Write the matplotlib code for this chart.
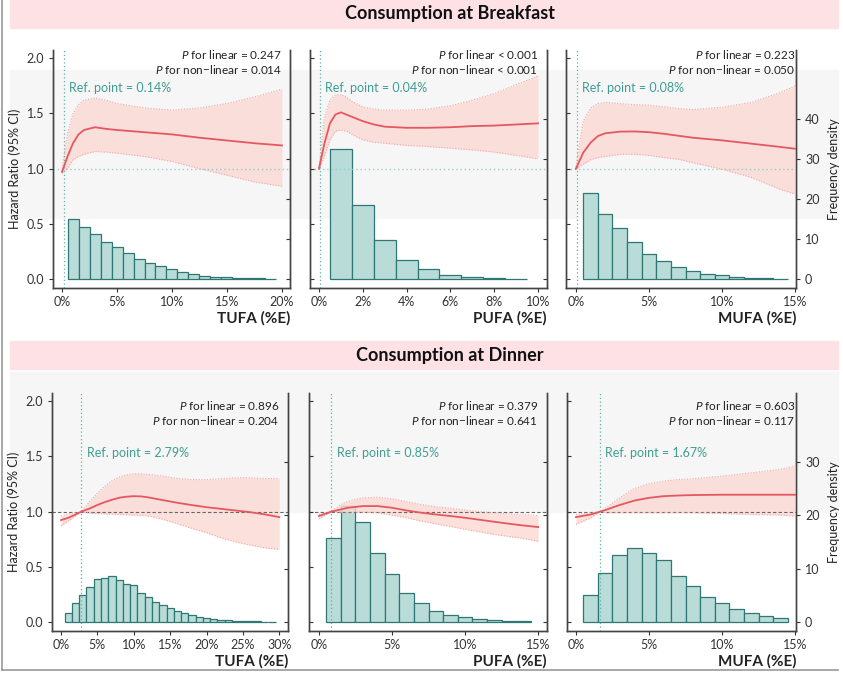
import numpy as np
import matplotlib
matplotlib.use("Agg")
import matplotlib.pyplot as plt
from matplotlib.patches import Rectangle
from matplotlib.lines import Line2D

plt.rcParams['font.family'] = ['Lato', 'DejaVu Sans']
plt.rcParams['mathtext.fontset'] = 'custom'
plt.rcParams['mathtext.it'] = 'Lato:italic'
plt.rcParams['mathtext.rm'] = 'Lato'

W, H = 843, 674

# ---------------- Breakfast ----------------
# TUFA
bf_tufa_x = [0, 0.5, 1, 1.5, 2, 3, 4, 5, 7.5, 10, 12.5, 15, 17.5, 20]
bf_tufa_hr = [0.97, 1.11, 1.23, 1.31, 1.35, 1.375, 1.36, 1.35, 1.33, 1.31, 1.28, 1.255, 1.23, 1.21]
bf_tufa_lo = [0.96, 1.00, 1.08, 1.11, 1.13, 1.155, 1.15, 1.14, 1.11, 1.065, 1.00, 0.94, 0.88, 0.84]
bf_tufa_hi = [1.00, 1.32, 1.50, 1.58, 1.62, 1.64, 1.62, 1.59, 1.55, 1.53, 1.55, 1.59, 1.65, 1.72]
bf_tufa_freq = [15.0, 13.1, 11.25, 9.3, 7.9, 6.5, 5.0, 4.0, 3.2, 2.5, 1.8, 1.25,
                0.83, 0.58, 0.42, 0.33, 0.25, 0.17, 0.08]

# PUFA
bf_pufa_x = [0, 0.25, 0.5, 0.75, 1, 1.25, 1.5, 2, 2.5, 3, 4, 5, 6, 7, 8, 9, 10]
bf_pufa_hr = [1.0, 1.23, 1.41, 1.49, 1.51, 1.49, 1.47, 1.43, 1.40, 1.38, 1.37, 1.37,
              1.375, 1.385, 1.39, 1.40, 1.41]
bf_pufa_lo = [1.0, 1.11, 1.26, 1.34, 1.35, 1.34, 1.31, 1.26, 1.24, 1.23, 1.21, 1.20,
              1.185, 1.17, 1.15, 1.12, 1.09]
bf_pufa_hi = [1.01, 1.47, 1.62, 1.67, 1.67, 1.65, 1.61, 1.56, 1.54, 1.53, 1.53, 1.54,
              1.57, 1.62, 1.68, 1.76, 1.84]
bf_pufa_freq = [32.5, 18.6, 9.8, 4.75, 2.5, 1.1, 0.5, 0.25, 0.08]

# MUFA
bf_mufa_x = [0, 0.5, 1, 1.5, 2, 3, 4, 5, 6, 7, 8, 10, 12, 14, 15]
bf_mufa_hr = [1.0, 1.145, 1.235, 1.295, 1.32, 1.335, 1.337, 1.33, 1.316, 1.298, 1.28,
              1.256, 1.226, 1.196, 1.18]
bf_mufa_lo = [1.0, 1.04, 1.08, 1.10, 1.11, 1.13, 1.13, 1.12, 1.10, 1.085, 1.054, 0.994,
              0.92, 0.81, 0.77]
bf_mufa_hi = [1.02, 1.43, 1.55, 1.59, 1.60, 1.59, 1.58, 1.575, 1.56, 1.545, 1.535,
              1.557, 1.60, 1.69, 1.75]
bf_mufa_freq = [21.4, 16.3, 12.8, 9.3, 6.3, 4.6, 3.1, 2.0, 1.14, 0.9, 0.57, 0.33, 0.16, 0.08]

# ---------------- Dinner ----------------
# TUFA
dn_tufa_x = [0, 1, 2, 2.79, 4, 5, 6, 7, 8, 9, 10, 11, 12, 14, 16, 18, 20, 22, 24, 26, 28, 30]
dn_tufa_hr = [0.923, 0.944, 0.974, 1.0, 1.03, 1.06, 1.086, 1.107, 1.126, 1.135, 1.14,
              1.138, 1.129, 1.104, 1.08, 1.059, 1.04, 1.025, 1.01, 0.995, 0.975, 0.95]
dn_tufa_lo = [0.87, 0.914, 0.96, 1.0, 0.986, 0.983, 0.98, 0.977, 0.974, 0.971, 0.968,
              0.965, 0.96, 0.93, 0.89, 0.847, 0.81, 0.762, 0.726, 0.696, 0.672, 0.657]
dn_tufa_hi = [0.96, 0.98, 0.99, 1.0, 1.095, 1.17, 1.23, 1.277, 1.313, 1.333, 1.343,
              1.342, 1.337, 1.322, 1.30, 1.29, 1.29, 1.298, 1.307, 1.307, 1.30, 1.30]
dn_tufa_freq = [1.66, 3.5, 5.0, 6.6, 8.0, 8.2, 8.7, 7.9, 7.2, 6.9, 5.5, 4.7, 3.8, 3.2,
                2.6, 2.1, 1.66, 1.23, 0.92, 0.74, 0.55, 0.43, 0.31, 0.25, 0.18, 0.12,
                0.09, 0.06, 0.06]

# PUFA
dn_pufa_x = [0, 0.85, 1.5, 2, 3, 4, 5, 6, 7, 8, 9, 10, 11, 12, 13, 14, 15]
dn_pufa_hr = [0.96, 1.0, 1.02, 1.035, 1.05, 1.05, 1.035, 1.01, 0.99, 0.974, 0.96,
              0.944, 0.926, 0.908, 0.89, 0.874, 0.86]
dn_pufa_lo = [0.935, 1.0, 0.995, 0.995, 0.995, 0.99, 0.968, 0.944, 0.914, 0.89, 0.865,
              0.84, 0.817, 0.793, 0.775, 0.756, 0.73]
dn_pufa_hi = [0.974, 1.0, 1.065, 1.095, 1.125, 1.13, 1.117, 1.09, 1.065, 1.044, 1.03,
              1.014, 1.0, 0.99, 0.98, 0.974, 0.965]
dn_pufa_freq = [15.8, 21.7, 18.8, 12.9, 8.9, 5.5, 3.6, 2.15, 1.35, 0.92, 0.55, 0.37, 0.25, 0.18]

# MUFA
dn_mufa_x = [0, 1, 1.67, 2, 3, 4, 5, 6, 7, 8, 10, 12, 14, 15]
dn_mufa_hr = [0.95, 0.974, 1.0, 1.014, 1.06, 1.10, 1.125, 1.14, 1.146, 1.15, 1.153,
              1.153, 1.153, 1.153]
dn_mufa_lo = [0.884, 0.944, 1.0, 0.99, 0.99, 0.99, 0.99, 0.99, 0.99, 0.99, 0.983,
              0.974, 0.968, 0.96]
dn_mufa_hi = [0.974, 0.99, 1.0, 1.03, 1.125, 1.21, 1.253, 1.277, 1.29, 1.298, 1.322,
              1.352, 1.383, 1.413]
dn_mufa_freq = [5.0, 9.2, 12.6, 13.9, 12.9, 11.6, 8.7, 6.75, 4.7, 3.5, 2.45, 1.66, 1.17, 0.67]

TEAL = '#3f9e93'
RED = '#e4585f'
BAND = '#fcd9d4'
BAND_EDGE = '#f0a7a3'
BAR_FACE = '#b9dcd9'
BAR_EDGE = '#2f7772'
SPINE = '#444444'


def fig_rect(left, top, width, height):
    """pixel box -> figure fraction rect"""
    return [left / W, 1 - (top + height) / H, width / W, height / H]


def draw_panel(fig, box, xlim, xticks, x, hr, lo, hi, freq, ref, p_lin, p_non,
               xlabel, freq_lim, freq_ticks, first=False, last=False, dinner=False):
    ax2 = fig.add_axes(fig_rect(*box))
    ax = ax2.twinx()
    ax.yaxis.tick_left()
    ax2.yaxis.tick_right()
    ax2.patch.set_visible(False)

    # histogram on frequency axis
    centers = np.arange(len(freq)) + 1
    ax2.bar(centers, freq, width=1.0, color=BAR_FACE, edgecolor=BAR_EDGE,
            linewidth=0.9, zorder=2)
    ax2.set_ylim(*freq_lim)
    ax2.set_yticks(freq_ticks)
    ax2.set_xlim(*xlim)

    # spline + CI
    ax.fill_between(x, lo, hi, color=BAND, alpha=0.8, linewidth=0, zorder=1)
    ax.plot(x, lo, color=BAND_EDGE, lw=0.8, ls=(0, (1, 1.5)), zorder=2)
    ax.plot(x, hi, color=BAND_EDGE, lw=0.8, ls=(0, (1, 1.5)), zorder=2)
    ax.plot(x, hr, color=RED, lw=1.3, zorder=3)

    ax.axvline(ref, color='#5db3a7', lw=0.9, ls=(0, (1, 2)), zorder=1)
    if dinner:
        ax.axhline(1.0, color='#666666', lw=0.8, ls=(0, (3, 2)), zorder=1)
    else:
        ax.axhline(1.0, color='#8fd0c6', lw=1.0, ls=(0, (1, 2)), zorder=1)

    ax.set_ylim(-0.082, 2.075)
    ax.set_yticks([0, 0.5, 1.0, 1.5, 2.0])
    ax.set_xlim(*xlim)
    ax2.set_xticks(xticks)
    ax2.set_xticklabels([f"{t}%" for t in xticks])

    for a in (ax, ax2):
        a.spines['top'].set_visible(False)
        for s in ('left', 'right', 'bottom'):
            a.spines[s].set_color(SPINE)
            a.spines[s].set_linewidth(1.0)
    ax.tick_params(axis='y', labelsize=9, colors='#333333', length=3,
                   direction='out' if first else 'in', labelleft=first)
    ax2.tick_params(axis='y', labelsize=9, colors='#333333', length=3,
                    direction='out' if last else 'in', labelright=last)
    ax2.tick_params(axis='x', labelsize=9, colors='#333333', length=3, pad=3)
    ax.tick_params(axis='x', bottom=False, labelbottom=False)

    if first:
        ax.set_ylabel('Hazard Ratio (95% CI)', fontsize=9, color='#222222', labelpad=4)
        ax.yaxis.set_label_position('left')
    if last:
        ax2.yaxis.set_label_position('right')
        ax2.set_ylabel('Frequency density', fontsize=9, color='#222222', labelpad=6)

    xr = x[-1]
    p_y = (1.96, 1.83) if dinner else (2.035, 1.90)
    ax.text(xr, p_y[0], r'$\mathit{P}$ for linear ' + p_lin, ha='right', va='center',
            fontsize=8.5, color='#222222')
    ax.text(xr, p_y[1], r'$\mathit{P}$ for non−linear ' + p_non, ha='right',
            va='center', fontsize=8.5, color='#222222')
    ref_y = 1.735 if not dinner else 1.535
    ax.text(ref + 0.022 * (xlim[1] - xlim[0]), ref_y, f'Ref. point = {ref}%',
            ha='left', va='center', fontsize=9, color=TEAL)

    ax2.set_xlabel(xlabel, fontsize=11, fontweight='bold', color='#222222',
                   loc='right', labelpad=2)
    return ax, ax2


fig = plt.figure(figsize=(W / 100, H / 100), dpi=100)
fig.patch.set_facecolor('white')

# background bands and banners
fig.add_artist(Rectangle((10 / W, 1 - 218 / H), 828 / W, 148 / H,
                         transform=fig.transFigure, color='#f6f6f6', zorder=0))
fig.add_artist(Rectangle((10 / W, 1 - 512 / H), 828 / W, 140 / H,
                         transform=fig.transFigure, color='#f6f6f6', zorder=0))
fig.add_artist(Rectangle((10 / W, 1 - 28 / H), 828 / W, 28 / H,
                         transform=fig.transFigure, color='#fde1e5', zorder=0))
fig.add_artist(Rectangle((10 / W, 1 - 369 / H), 828 / W, 28 / H,
                         transform=fig.transFigure, color='#fde1e5', zorder=0))
fig.add_artist(Line2D([2 / W, 2 / W], [1 - 670 / H, 1.0], transform=fig.transFigure,
                      color='#9a9a9a', lw=1.2))
fig.add_artist(Line2D([2 / W, 838 / W], [1 - 670 / H, 1 - 670 / H],
                      transform=fig.transFigure, color='#9a9a9a', lw=1.2))

fig.text(450 / W, 1 - 14 / H, 'Consumption at Breakfast', ha='center', va='center',
         fontsize=13, fontweight='bold', color='#111111')
fig.text(450 / W, 1 - 355 / H, 'Consumption at Dinner', ha='center', va='center',
         fontsize=13, fontweight='bold', color='#111111')

top_freq = (-2.25, 57.2)
bot_freq = (-1.69, 42.9)

draw_panel(fig, (53, 50, 237, 238), (-0.82, 20.73), [0, 5, 10, 15, 20],
           bf_tufa_x, bf_tufa_hr, bf_tufa_lo, bf_tufa_hi, bf_tufa_freq, 0.14,
           '= 0.247', '= 0.014', 'TUFA (%E)', top_freq, [0, 10, 20, 30, 40], first=True)
draw_panel(fig, (310, 50, 237, 238), (-0.41, 10.41), [0, 2, 4, 6, 8, 10],
           bf_pufa_x, bf_pufa_hr, bf_pufa_lo, bf_pufa_hi, bf_pufa_freq, 0.04,
           '< 0.001', '< 0.001', 'PUFA (%E)', top_freq, [0, 10, 20, 30, 40])
draw_panel(fig, (566, 50, 230, 238), (-0.68, 15.05), [0, 5, 10, 15],
           bf_mufa_x, bf_mufa_hr, bf_mufa_lo, bf_mufa_hi, bf_mufa_freq, 0.08,
           '= 0.223', '= 0.050', 'MUFA (%E)', top_freq, [0, 10, 20, 30, 40], last=True)

draw_panel(fig, (52, 393, 236, 238), (-1.24, 31.2), [0, 5, 10, 15, 20, 25, 30],
           dn_tufa_x, dn_tufa_hr, dn_tufa_lo, dn_tufa_hi, dn_tufa_freq, 2.79,
           '= 0.896', '= 0.204', 'TUFA (%E)', bot_freq, [0, 10, 20, 30],
           first=True, dinner=True)
draw_panel(fig, (309, 393, 238, 238), (-0.68, 15.6), [0, 5, 10, 15],
           dn_pufa_x, dn_pufa_hr, dn_pufa_lo, dn_pufa_hi, dn_pufa_freq, 0.85,
           '= 0.379', '= 0.641', 'PUFA (%E)', bot_freq, [0, 10, 20, 30], dinner=True)
draw_panel(fig, (567, 393, 229, 238), (-0.61, 15.05), [0, 5, 10, 15],
           dn_mufa_x, dn_mufa_hr, dn_mufa_lo, dn_mufa_hi, dn_mufa_freq, 1.67,
           '= 0.603', '= 0.117', 'MUFA (%E)', bot_freq, [0, 10, 20, 30],
           last=True, dinner=True)

fig.savefig('out.png', dpi=100, facecolor=fig.get_facecolor())
